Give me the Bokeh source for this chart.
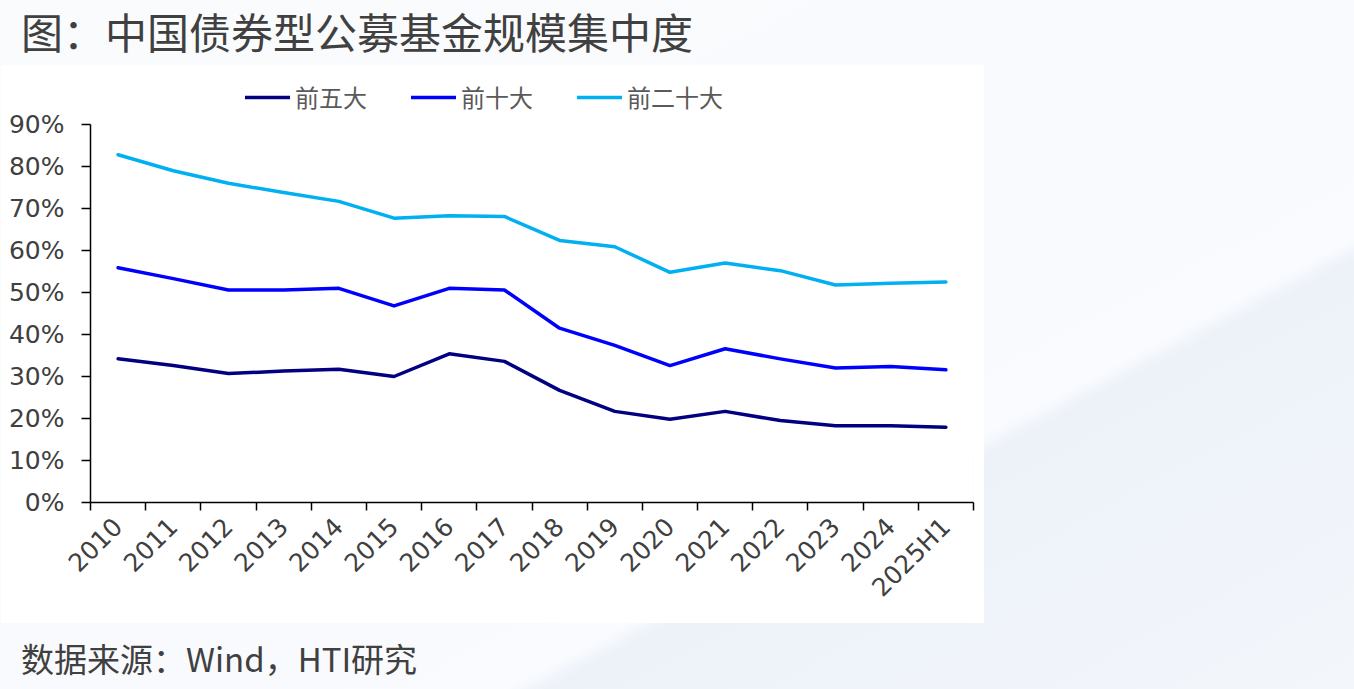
import math

from bokeh.embed import file_html
from bokeh.layouts import column
from bokeh.models import (CustomJSTickFormatter, Div, FixedTicker, Legend,
                          LegendItem, PrintfTickFormatter, Range1d)
from bokeh.plotting import figure
from bokeh.resources import INLINE

# ---- data: share of bond-fund AUM held by the largest managers (%) ----
years = ["2010", "2011", "2012", "2013", "2014", "2015", "2016", "2017",
         "2018", "2019", "2020", "2021", "2022", "2023", "2024", "2025H1"]
top5 = [34.2, 32.6, 30.7, 31.3, 31.7, 30.0, 35.4, 33.6,
        26.7, 21.7, 19.8, 21.7, 19.5, 18.3, 18.3, 17.9]
top10 = [55.9, 53.3, 50.6, 50.6, 51.0, 46.8, 51.0, 50.6,
         41.5, 37.4, 32.6, 36.6, 34.2, 32.0, 32.4, 31.6]
top20 = [82.8, 79.0, 76.0, 73.8, 71.7, 67.7, 68.3, 68.1,
         62.4, 60.9, 54.8, 57.0, 55.2, 51.8, 52.2, 52.5]
series_names = ["前五大", "前十大", "前二十大"]
series_colors = ["#000080", "#0000FF", "#00B0F0"]
y_ticks = [0, 10, 20, 30, 40, 50, 60, 70, 80, 90]

title_text = "图：中国债券型公募基金规模集中度"
source_text = "数据来源：Wind，HTI研究"

TEXT = "#404040"
CJK = "Noto Sans CJK SC"
NUM = "DejaVu Sans"

# the frame reaches above 90% to leave room for the legend; the axis stops at 90%
Y_MAX = 90
FRAME_H = 428
AXIS_H = 378
y_top = Y_MAX * FRAME_H / AXIS_H

# category centres sit at i + 0.5, boundaries at integers
xs = [i + 0.5 for i in range(len(years))]

p = figure(width=984, height=559, output_backend="svg", toolbar_location=None,
           x_range=Range1d(0, len(years)), y_range=Range1d(0, y_top),
           min_border_left=90, min_border_right=11,
           min_border_top=10, min_border_bottom=121,
           background_fill_color="white", border_fill_color="white",
           outline_line_color=None, margin=0)
p.grid.visible = False

renderers = []
for vals, color in zip([top5, top10, top20], series_colors):
    r = p.line(xs, vals, line_color=color, line_width=3.5,
               line_cap="round", line_join="round")
    renderers.append(r)

# y axis
ya = p.yaxis[0]
ya.bounds = (0, Y_MAX)
ya.ticker = FixedTicker(ticks=y_ticks, minor_ticks=[])
ya.formatter = PrintfTickFormatter(format="%d%%")
ya.axis_line_color = "black"
ya.axis_line_width = 1.5
ya.major_tick_line_color = "black"
ya.major_tick_line_width = 1.5
ya.major_tick_out = 9
ya.major_tick_in = 0
ya.minor_tick_line_color = None
ya.major_label_standoff = 17
ya.major_label_text_font = NUM
ya.major_label_text_font_size = "25px"
ya.major_label_text_color = TEXT

# x axis: labels at category centres, tick marks at category boundaries
xa = p.xaxis[0]
xa.ticker = FixedTicker(ticks=xs, minor_ticks=list(range(len(years) + 1)))
xa.formatter = CustomJSTickFormatter(args=dict(labels=years),
                                     code="return labels[Math.floor(tick)] || ''")
xa.axis_line_color = "black"
xa.axis_line_width = 1.5
xa.major_tick_line_color = None
xa.major_tick_out = 0
xa.major_tick_in = 0
xa.minor_tick_line_color = "black"
xa.minor_tick_line_width = 1.5
xa.minor_tick_out = 8
xa.minor_tick_in = 0
xa.major_label_orientation = math.pi / 4
xa.major_label_standoff = 12
xa.major_label_text_font = NUM
xa.major_label_text_font_size = "25px"
xa.major_label_text_color = TEXT

legend = Legend(
    items=[LegendItem(label=n, renderers=[r]) for n, r in zip(series_names, renderers)],
    orientation="horizontal", location=(155, 388),
    glyph_width=45, glyph_height=20, label_standoff=5, spacing=44,
    padding=0, margin=0, border_line_color=None, background_fill_alpha=0,
    label_text_font=CJK, label_text_font_size="24px", label_text_color="#5a5a5a",
)
p.add_layout(legend)

title_div = Div(text=title_text, width=1354, height=64, margin=0, styles={
    "font-family": CJK, "font-size": "42px", "line-height": "normal",
    "color": TEXT, "padding-left": "21px", "padding-top": "0px",
    "box-sizing": "border-box",
})
source_div = Div(text=source_text, width=1354, height=66, margin=0, styles={
    "font-family": CJK, "font-size": "33px", "line-height": "normal",
    "color": TEXT, "padding-left": "21px", "padding-top": "11px",
    "box-sizing": "border-box",
})

# pale page backdrop with a soft ridge towards the lower right
backdrop = ("linear-gradient(152deg, #FAFBFD 0%, #F8FAFD 60%, #F9FBFE 68%, "
            "#EDF2F9 69.5%, #F0F4FA 86%, #F3F6FB 100%)")

page = column(title_div, p, source_div, width=1354, height=689, spacing=0, margin=0,
              styles={"background": backdrop})

open("out.html", "w").write(file_html(page, INLINE, title=title_text))
